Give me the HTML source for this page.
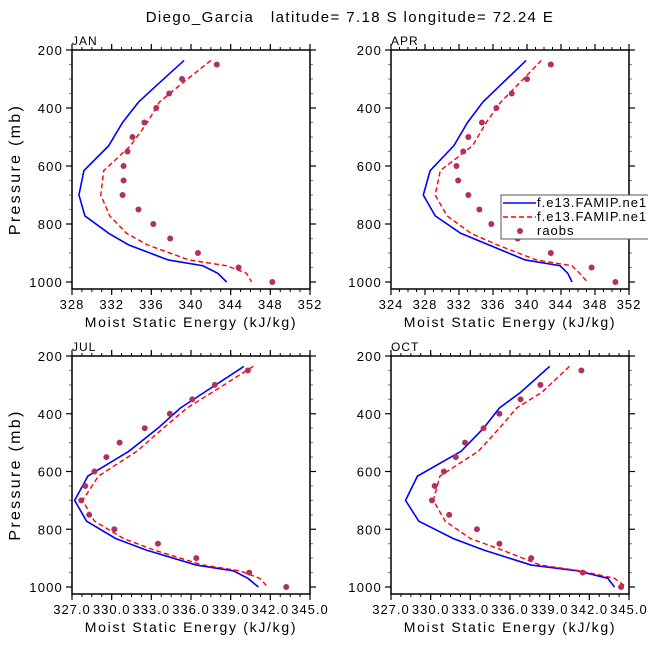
<!DOCTYPE html>
<html><head><meta charset="utf-8"><style>
body{margin:0;background:#fff;}
svg text{font-family:"Liberation Sans",sans-serif;fill:#000;}
</style></head><body>
<svg id="c" width="648" height="648" xmlns="http://www.w3.org/2000/svg">
<text x="350" y="22" text-anchor="middle" font-size="15" letter-spacing="1.4" xml:space="preserve">Diego_Garcia   latitude= 7.18 S longitude= 72.24 E</text>
</svg>
<script>
const modelLevels=[236,326,380,450,530,616,700,772,832,872,924,944,970,1000];
const obsLevels=[250,300,350,400,450,500,550,600,650,700,750,800,850,900,950,1000];
const months=["JAN","APR","JUL","OCT"];
const janBlue=[339.3,336.4,334.7,333.1,331.7,329.2,328.7,329.3,331.7,333.7,337.7,341.2,342.7,343.6];
const janRed=[342.0,338.7,336.8,335.6,333.9,331.2,330.9,331.8,333.5,335.6,339.8,343.6,345.6,346.1];
const janObs=[342.6,339.1,337.8,336.5,335.3,334.1,333.6,333.2,333.2,333.1,334.7,336.2,337.9,340.7,344.8,348.2];
const aprBlue=[339.9,336.7,334.8,333.0,331.4,328.6,327.8,329.2,332.2,335.5,339.8,343.9,344.8,345.3];
const aprRed=[341.7,338.7,336.9,335.2,333.6,329.8,329.2,330.6,333.4,336.5,341.1,345.3,346.2,347.1];
const aprObs=[342.8,340.0,338.2,336.4,334.7,333.1,332.5,331.7,331.9,333.1,334.4,335.8,338.9,342.8,347.6,350.4];
const julBlue=[340.0,337.0,335.2,333.5,331.3,328.2,327.2,328.1,330.3,332.6,336.4,339.2,340.3,341.1];
const julRed=[340.7,337.6,335.7,333.9,331.9,329.0,327.8,328.7,330.9,333.2,336.9,339.7,341.2,341.8];
const julObs=[340.3,337.8,336.1,334.4,332.5,330.6,329.6,328.7,328.0,327.7,328.3,330.2,333.5,336.4,340.4,343.2];
const octBlue=[339.0,336.8,335.2,334.0,332.3,329.0,328.1,329.1,331.7,334.0,337.6,341.1,343.4,343.9];
const octRed=[340.5,338.4,336.5,335.2,333.6,330.7,330.2,331.1,333.0,335.4,338.3,341.3,343.9,344.8];
const octObs=[341.4,338.3,336.8,335.2,334.0,332.6,331.9,331.0,330.3,330.1,331.4,333.5,335.2,337.6,341.5,344.4];
const xTicksTop1=["328","332","336","340","344","348","352"];
const xTicksTop2=["324","328","332","336","340","344","348","352"];
const xTicksBot=["327.0","330.0","333.0","336.0","339.0","342.0","345.0"];
const yTicks=[200,400,600,800,1000];
const legendLabels=["f.e13.FAMIP.ne1","f.e13.FAMIP.ne1","raobs"];

const NS="http://www.w3.org/2000/svg";
const svg=document.getElementById('c');
function mk(t,a,p){const e=document.createElementNS(NS,t);for(const k in a)e.setAttribute(k,a[k]);(p||svg).appendChild(e);return e;}

const panels=[
 {m:0,x0:72,x1:310,y0:50,y1:289,xmin:328,xmax:352,xt:xTicksTop1,minor:1,blue:janBlue,red:janRed,obs:janObs,yl:true},
 {m:1,x0:391,x1:629,y0:50,y1:289,xmin:324,xmax:352,xt:xTicksTop2,minor:1,blue:aprBlue,red:aprRed,obs:aprObs,yl:false},
 {m:2,x0:72,x1:310,y0:356,y1:594,xmin:327,xmax:345,xt:xTicksBot,minor:0.75,blue:julBlue,red:julRed,obs:julObs,yl:true},
 {m:3,x0:391,x1:629,y0:356,y1:594,xmin:327,xmax:345,xt:xTicksBot,minor:0.75,blue:octBlue,red:octRed,obs:octObs,yl:false}
];
panels.forEach(P=>{
  const g=mk('g',{});
  
  
  const p1000=P.y1-7;
  const ys=p=>P.y0+(p-200)*(p1000-P.y0)/800;
  const xs=v=>P.x0+(v-P.xmin)*(P.x1-P.x0)/(P.xmax-P.xmin);
  const lbl=mk('text',{x:P.x0,y:P.y0-5,'font-size':12,'letter-spacing':1},g);lbl.textContent=months[P.m];
  
  
  for(let v=P.xmin;v<=P.xmax+1e-6;v+=P.minor){
    const x=xs(v);
    mk('line',{x1:x,x2:x,y1:P.y0,y2:P.y0-3,stroke:'#000','stroke-width':1},g);
    mk('line',{x1:x,x2:x,y1:P.y1,y2:P.y1+3,stroke:'#000','stroke-width':1},g);
  }
  P.xt.forEach((t,i)=>{
    const v=P.xmin+i*(P.xmax-P.xmin)/(P.xt.length-1);const x=xs(v);
    mk('line',{x1:x,x2:x,y1:P.y0,y2:P.y0-6,stroke:'#000','stroke-width':1.2},g);
    mk('line',{x1:x,x2:x,y1:P.y1,y2:P.y1+6,stroke:'#000','stroke-width':1.2},g);
    const tt=mk('text',{x:x,y:P.y1+20,'font-size':13,'text-anchor':'middle','letter-spacing':1},g);tt.textContent=t;
    
    
  });
  for(let p=200;p<=1000;p+=50){
    const y=ys(p);const maj=p%200===0;const L=maj?6:3;
    mk('line',{x1:P.x0,x2:P.x0-L,y1:y,y2:y,stroke:maj?'#000':'#888','stroke-width':1.2},g);
    mk('line',{x1:P.x1,x2:P.x1+L,y1:y,y2:y,stroke:maj?'#000':'#888','stroke-width':1.2},g);
  }
  yTicks.forEach(p=>{
    const tt=mk('text',{x:P.x0-9,y:ys(p)+5,'font-size':13,'text-anchor':'end','letter-spacing':1.2},g);tt.textContent=p;
    
    
  });
  const box=mk('rect',{x:P.x0,y:P.y0,width:P.x1-P.x0,height:P.y1-P.y0,fill:'none',stroke:'#000','stroke-width':1.5},g);
  
  
  const xl=mk('text',{x:(P.x0+P.x1)/2,y:P.y1+38,'font-size':14,'text-anchor':'middle','letter-spacing':1.7},g);xl.textContent='Moist Static Energy (kJ/kg)';
  
  
  if(P.yl){const cy=(P.y0+P.y1)/2;const yl=mk('text',{x:20,y:cy,'font-size':16,'text-anchor':'middle','letter-spacing':2.3,transform:`rotate(-90 20 ${cy})`},g);yl.textContent='Pressure (mb)';
    
    }
  const bl=mk('polyline',{points:P.blue.map((v,i)=>xs(v)+','+ys(modelLevels[i])).join(' '),fill:'none',stroke:'#0000ff','stroke-width':1.6},g);
  
  
  const rl=mk('polyline',{points:P.red.map((v,i)=>xs(v)+','+ys(modelLevels[i])).join(' '),fill:'none',stroke:'#ff0000','stroke-width':1.4,'stroke-dasharray':'5,3'},g);
  
  
  P.obs.forEach((v,i)=>{
    const c=mk('circle',{cx:xs(v),cy:ys(obsLevels[i]),r:3,fill:'#b03060'},g);
    
    
  });
});
const lg=mk('g',{});


mk('rect',{x:501,y:195,width:160,height:44,fill:'#fff',stroke:'#555','stroke-width':1},lg);
mk('line',{x1:503,x2:536,y1:203,y2:203,stroke:'#0000ff','stroke-width':1.6},lg);
mk('line',{x1:503,x2:536,y1:217,y2:217,stroke:'#ff0000','stroke-width':1.4,'stroke-dasharray':'5,3'},lg);
mk('circle',{cx:520,cy:231,r:3,fill:'#b03060'},lg);
legendLabels.forEach((t,i)=>{
  const e=mk('text',{x:537,y:207+i*14,'font-size':13,'letter-spacing':1},lg);e.textContent=t;
  
  
});
</script>
</body></html>
